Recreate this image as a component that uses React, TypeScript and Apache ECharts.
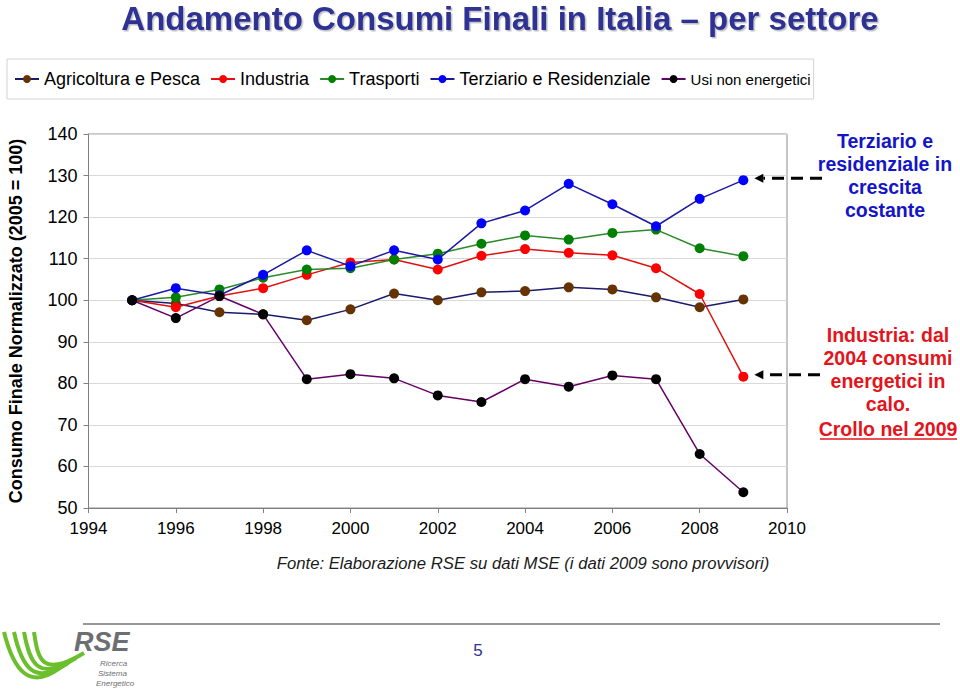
import React, { useEffect, useRef } from "react";
import * as echarts from "echarts";

const years = [1995, 1996, 1997, 1998, 1999, 2000, 2001, 2002, 2003, 2004, 2005, 2006, 2007, 2008, 2009];
const agricoltura = [100, 99.2, 97.1, 96.6, 95.2, 97.8, 101.6, 100.0, 101.9, 102.2, 103.1, 102.6, 100.7, 98.3, 100.2];
const industria = [100, 98.3, 101.0, 102.9, 106.1, 109.1, 109.8, 107.4, 110.7, 112.3, 111.4, 110.8, 107.7, 101.5, 81.6];
const trasporti = [100, 100.7, 102.6, 105.4, 107.4, 107.7, 109.8, 111.2, 113.6, 115.6, 114.6, 116.2, 117.0, 112.5, 110.6];
const terziario = [100, 102.9, 101.2, 106.1, 112.0, 108.2, 112.0, 109.8, 118.5, 121.6, 128.0, 123.1, 117.8, 124.4, 128.9];
const usiNonEnergetici = [100, 95.7, 101.0, 96.6, 81.0, 82.2, 81.2, 77.1, 75.5, 81.0, 79.2, 81.9, 81.0, 63.0, 53.8];

const seriesNames = ["Agricoltura e Pesca", "Industria", "Trasporti", "Terziario e Residenziale", "Usi non energetici"];
const markerColors = ["#663300", "#ff0000", "#008000", "#0000ff", "#000000"];
const lineColors = ["#1a1a6e", "#e01010", "#2a8a2a", "#1a1aa0", "#660066"];
const seriesValues = [agricoltura, industria, trasporti, terziario, usiNonEnergetici];

const title = "Andamento Consumi Finali in Italia \u2013 per settore";
const yAxisTitle = "Consumo Finale Normalizzato (2005 = 100)";
const sourceNote = "Fonte: Elaborazione RSE su dati MSE (i dati 2009 sono provvisori)";
const blueNote = ["Terziario e", "residenziale in", "crescita", "costante"];
const redNote = ["Industria: dal", "2004 consumi", "energetici in", "calo."];
const redNoteLast = "Crollo nel 2009";

const FONT = "Arial, 'Liberation Sans', sans-serif";

export default function App() {
  const ref = useRef<HTMLDivElement>(null);
  useEffect(() => {
    if (!ref.current) return;
    const chart = echarts.init(ref.current, undefined, { renderer: "svg" });
    const series = seriesNames.map((name, i) => ({
      name,
      type: "line",
      data: years.map((y, j) => [y, seriesValues[i][j]]),
      symbol: "circle",
      symbolSize: 10,
      itemStyle: { color: markerColors[i] },
      lineStyle: { color: lineColors[i], width: 1.5 },
      z: 2 + i,
    }));
    const option: any = {
      animation: false,
      backgroundColor: "#ffffff",
      textStyle: { fontFamily: FONT },
      legend: {
        left: 7,
        top: 59,
        itemWidth: 24,
        itemHeight: 10,
        itemGap: 10,
        padding: [11, 3, 11, 7],
        borderColor: "#d4d4d4",
        borderWidth: 1,
        data: seriesNames,
        formatter: (n: string) => (n === "Usi non energetici" ? "{s|" + n + "}" : n),
        textStyle: {
          fontFamily: FONT,
          fontSize: 18,
          color: "#000",
          rich: { s: { fontSize: 15, fontFamily: FONT, color: "#000" } },
        },
      },
      grid: {
        left: 88.5,
        top: 134,
        right: 173,
        bottom: 183,
        show: true,
        borderColor: "#8c8c8c",
        borderWidth: 1,
        containLabel: false,
        outerBoundsMode: "none",
      },
      xAxis: {
        type: "value",
        min: 1994,
        max: 2010,
        interval: 2,
        axisLine: { show: true, lineStyle: { color: "#808080" } },
        axisTick: { show: true, inside: false, length: 5, lineStyle: { color: "#808080" } },
        splitLine: { show: false },
        axisLabel: {
          color: "#000",
          fontSize: 17,
          fontFamily: FONT,
          margin: 12,
          formatter: (v: number) => String(v),
        },
      },
      yAxis: {
        type: "value",
        min: 50,
        max: 140,
        interval: 10,
        name: yAxisTitle,
        nameLocation: "middle",
        nameRotate: 90,
        nameGap: 64,
        nameTextStyle: { fontFamily: FONT, fontSize: 18, fontWeight: "bold", color: "#000" },
        axisLine: { show: true, lineStyle: { color: "#808080" } },
        axisTick: { show: true, inside: false, length: 5, lineStyle: { color: "#808080" } },
        splitLine: { show: true, lineStyle: { color: "#d9d9d9", width: 1 } },
        axisLabel: { color: "#000", fontSize: 18, fontFamily: FONT, margin: 11 },
      },
      series,
    };
    chart.setOption(option);

    const last = years.length - 1;
    const pB = chart.convertToPixel({ gridIndex: 0 }, [years[last], terziario[last]]) as number[];
    const pR = chart.convertToPixel({ gridIndex: 0 }, [years[last], industria[last]]) as number[];

    const arrow = (p: number[], startX: number) => {
      const tip = p[0] + 11;
      const y = p[1] - 2;
      return [
        {
          type: "line",
          shape: { x1: startX, y1: y, x2: tip + 9, y2: y },
          style: { stroke: "#000", lineWidth: 3, lineDash: [12, 7] },
        },
        {
          type: "polygon",
          shape: { points: [[tip, y], [tip + 9, y - 4.5], [tip + 9, y + 4.5]] },
          style: { fill: "#000" },
        },
      ];
    };

    const graphic: any[] = [
      {
        type: "text",
        style: {
          x: 500,
          y: 18,
          text: title,
          align: "center",
          verticalAlign: "middle",
          font: "bold 33px " + FONT,
          fill: "#2e3192",
          textShadowColor: "rgba(0,0,0,0.25)",
          textShadowOffsetX: 1.5,
          textShadowOffsetY: 1.5,
          textShadowBlur: 1,
        },
      },
      {
        type: "text",
        style: {
          x: 523,
          y: 563,
          text: sourceNote,
          align: "center",
          verticalAlign: "middle",
          font: "italic 16.7px " + FONT,
          fill: "#1a1a1a",
        },
      },
      ...blueNote.map((t, i) => ({
        type: "text",
        style: {
          x: 885,
          y: 141 + i * 23,
          text: t,
          align: "center",
          verticalAlign: "middle",
          font: "bold 19.5px " + FONT,
          fill: "#1414c8",
        },
      })),
      ...redNote.map((t, i) => ({
        type: "text",
        style: {
          x: 888,
          y: 335 + i * 23,
          text: t,
          align: "center",
          verticalAlign: "middle",
          font: "bold 19.5px " + FONT,
          fill: "#e3141b",
        },
      })),
      {
        type: "text",
        style: {
          x: 888,
          y: 429,
          text: redNoteLast,
          align: "center",
          verticalAlign: "middle",
          font: "bold 19.5px " + FONT,
          fill: "#e3141b",
        },
      },
      {
        type: "line",
        shape: { x1: 820, y1: 439, x2: 957, y2: 439 },
        style: { stroke: "#e3141b", lineWidth: 1.5 },
      },
      ...arrow(pB, 822),
      ...arrow(pR, 820),
      {
        type: "line",
        shape: { x1: 83, y1: 624, x2: 940, y2: 624 },
        style: { stroke: "#333333", lineWidth: 1.2 },
      },
      {
        type: "text",
        style: {
          x: 478,
          y: 650,
          text: "5",
          align: "center",
          verticalAlign: "middle",
          font: "17px " + FONT,
          fill: "#2e3192",
        },
      },
      // RSE logo (approximation)
      ...[0, 1, 2, 3].map((i) => ({
        type: "bezierCurve",
        shape: {
          x1: 4 + i * 10,
          y1: 632,
          cpx1: 14 + i * 8,
          cpy1: 672 - i * 4,
          cpx2: 30 + i * 4,
          cpy2: 690 - i * 4,
          x2: 60 + i * 8,
          y2: 668 - i * 5,
        },
        style: { stroke: "#6cbf2c", lineWidth: 4, fill: "none" },
      })),
      {
        type: "text",
        style: {
          x: 74,
          y: 642,
          text: "RSE",
          verticalAlign: "middle",
          font: "italic bold 27px " + FONT,
          fill: "#6d6e71",
        },
      },
      ...["Ricerca", "Sistema", "Energetico"].map((t, i) => ({
        type: "text",
        style: {
          x: 100 - i * 2,
          y: 663 + i * 10,
          text: t,
          verticalAlign: "middle",
          font: "italic 8px " + FONT,
          fill: "#6d6e71",
        },
      })),
    ];
    chart.setOption({ graphic });
    return () => chart.dispose();
  }, []);
  return (
    <div
      ref={ref}
      style={{ position: "fixed", left: 0, top: 0, width: 960, height: 691, background: "#fff" }}
    />
  );
}
